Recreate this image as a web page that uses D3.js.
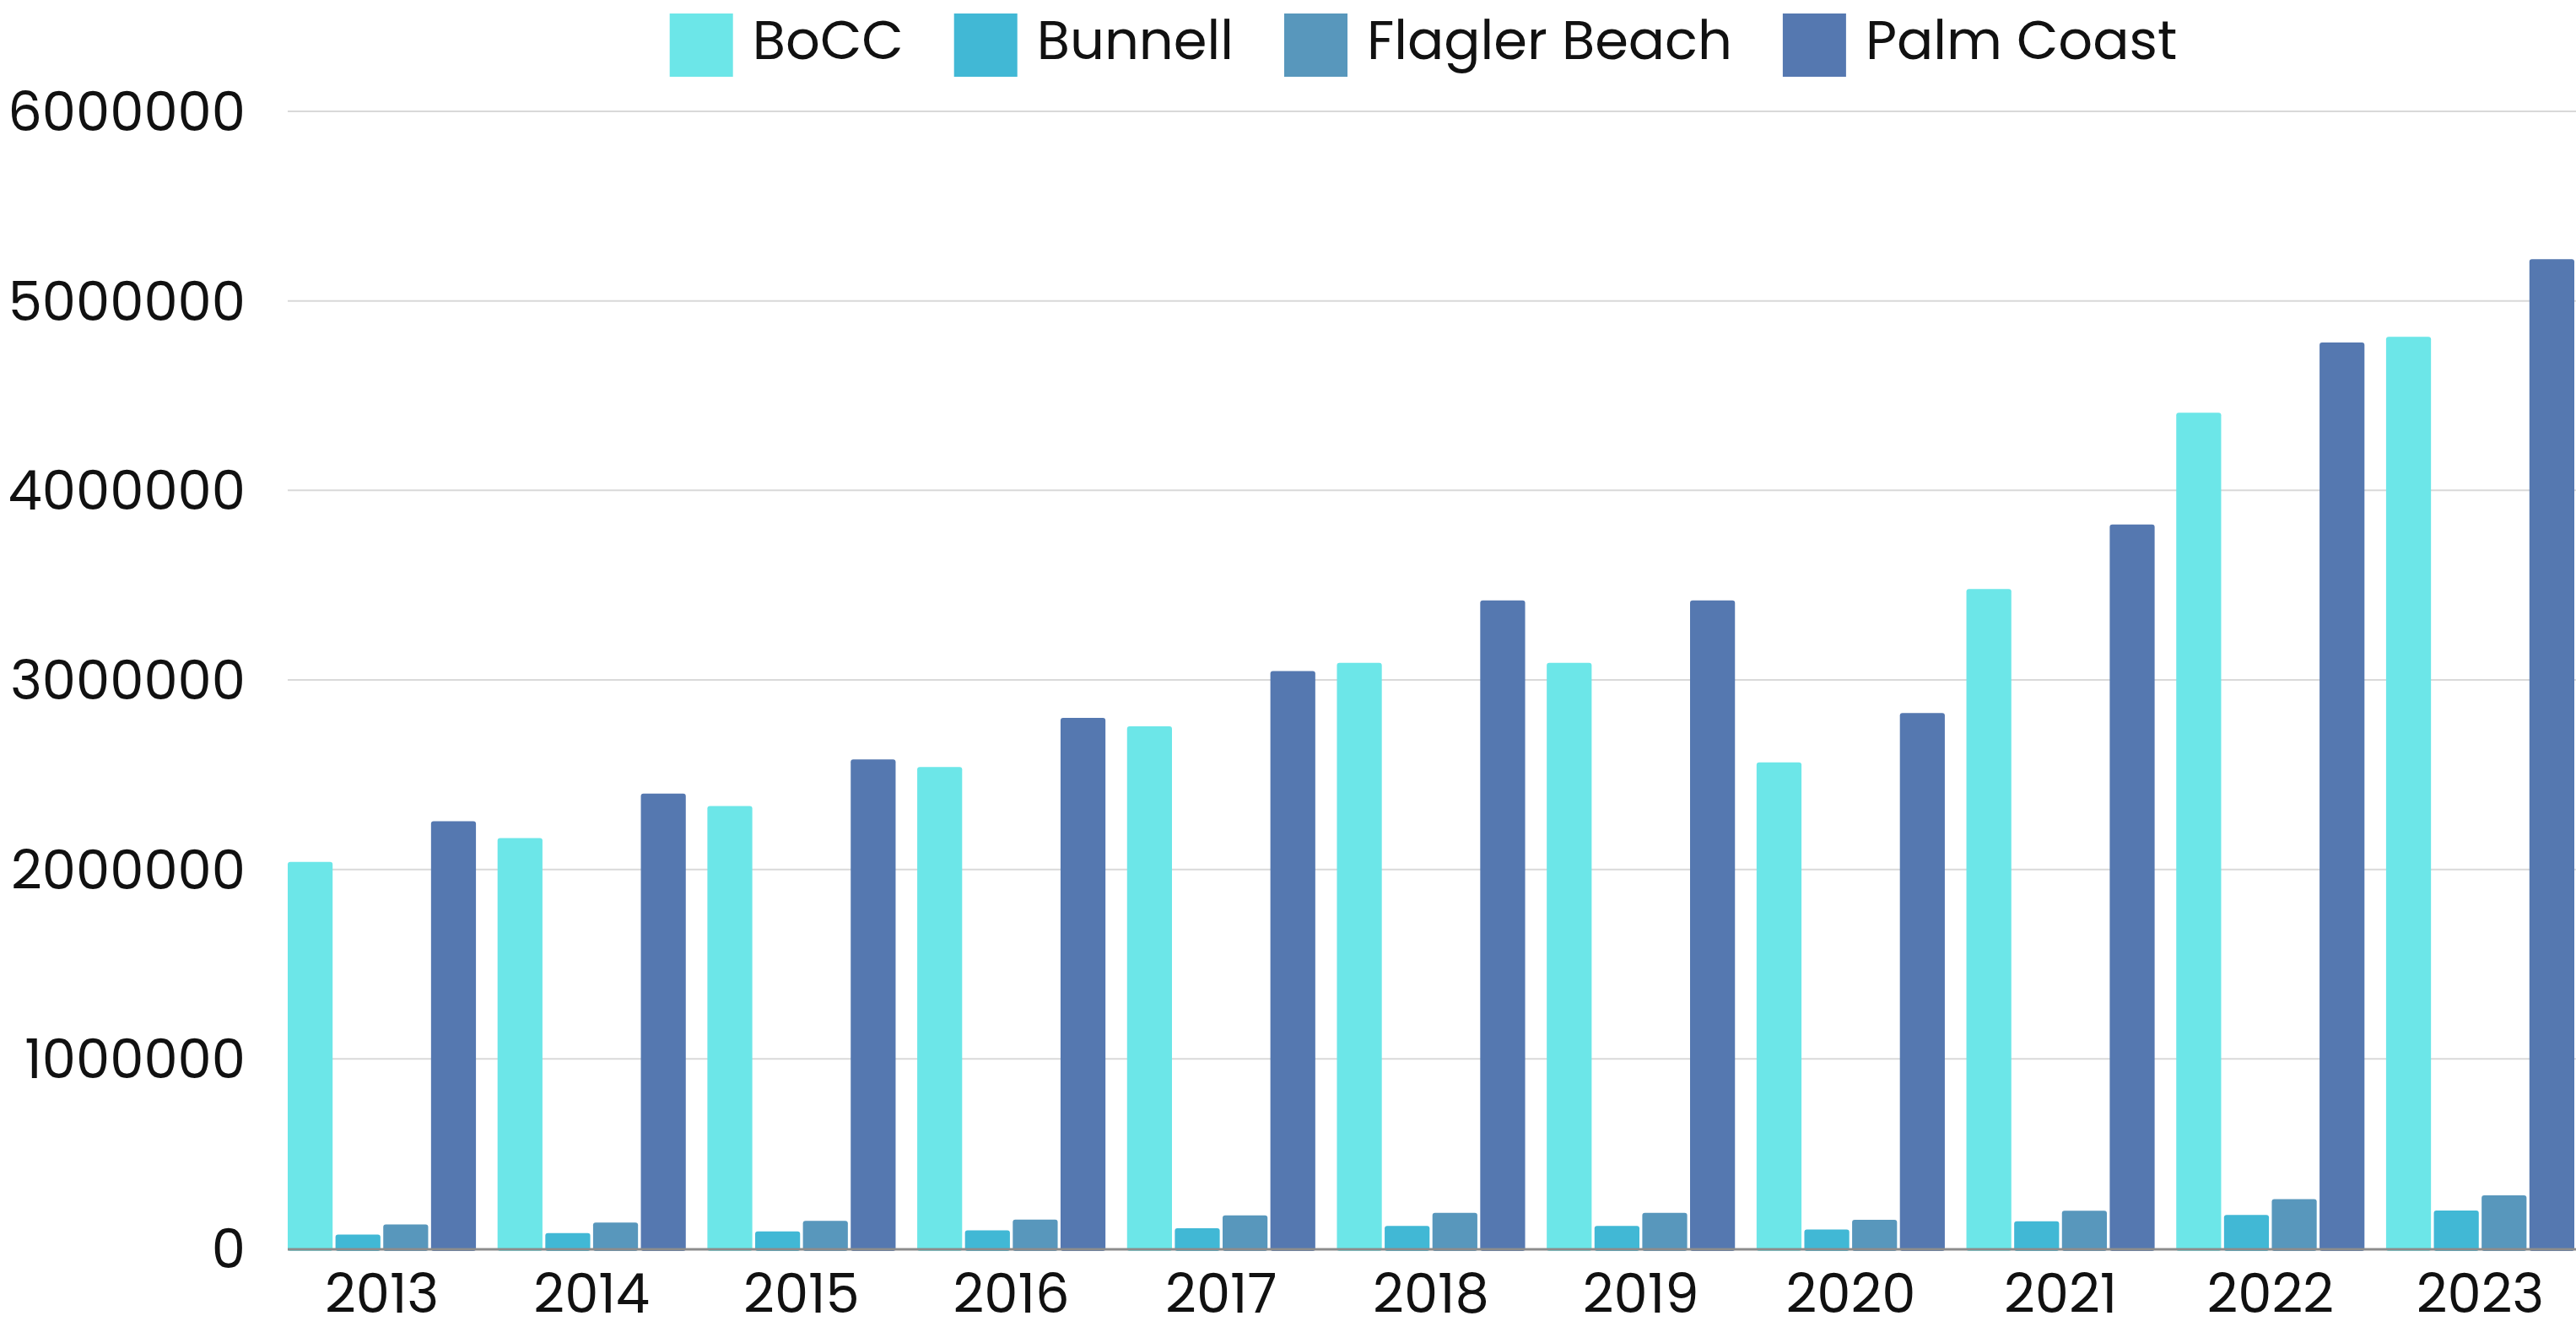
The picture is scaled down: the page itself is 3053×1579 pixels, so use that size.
<!DOCTYPE html>
<html>
<head>
<meta charset="utf-8">
<script src="https://cdn.jsdelivr.net/npm/d3@7"></script>
<style>
  body { margin: 0; background: #fff; }
  svg text { font-family: "Poppins", "Lato", sans-serif; fill: #111; }
</style>
</head>
<body>
<div id="chart"></div>
<script>
// data
const years = ["2013", "2014", "2015", "2016", "2017", "2018", "2019", "2020", "2021", "2022", "2023"];
const seriesNames = ["BoCC", "Bunnell", "Flagler Beach", "Palm Coast"];
const bocc = [2040000, 2165000, 2335000, 2540000, 2755000, 3090000, 3090000, 2565000, 3480000, 4410000, 4810000];
const bunnell = [73000, 81000, 90000, 96000, 107000, 119000, 119000, 100000, 144000, 177000, 200000];
const flaglerBeach = [127000, 137000, 146000, 153000, 175000, 188000, 188000, 151000, 199000, 260000, 280000];
const palmCoast = [2254000, 2400000, 2580000, 2800000, 3047000, 3420000, 3420000, 2825000, 3820000, 4780000, 5220000];
const yTicks = [0, 1000000, 2000000, 3000000, 4000000, 5000000, 6000000];
const colors = ["#6ce6e8", "#41b8d5", "#5897bc", "#5578b0"];

const width = 3053, height = 1579;
const margin = {top: 132, right: 2, bottom: 99, left: 341};

const svg = d3.select("#chart")
  .append("svg")
    .attr("width", width)
    .attr("height", height);

const table = years.map((yr, i) => ({
  year: yr,
  values: [bocc[i], bunnell[i], flaglerBeach[i], palmCoast[i]]
}));

// scales
const x = d3.scaleBand()
  .domain(years)
  .range([margin.left, width - margin.right])
  .paddingInner(0.103)
  .paddingOuter(0);

const xSub = d3.scaleBand()
  .domain(seriesNames)
  .range([0, x.bandwidth()])
  .paddingInner(0.06);

const y = d3.scaleLinear()
  .domain([0, 6000000])
  .range([height - margin.bottom, margin.top]);

const color = d3.scaleOrdinal().domain(seriesNames).range(colors);

// grid lines
svg.append("g")
  .selectAll("line")
  .data(yTicks.slice(1))
  .join("line")
    .attr("x1", margin.left)
    .attr("x2", width)
    .attr("y1", d => y(d))
    .attr("y2", d => y(d))
    .attr("stroke", "#d9d9d9")
    .attr("stroke-width", 2);

// y axis labels
const yAxis = svg.append("g")
  .attr("transform", `translate(${margin.left - 50},0)`)
  .call(d3.axisLeft(y).tickValues(yTicks).tickFormat(d3.format("d")).tickSize(0).tickPadding(0));
yAxis.select(".domain").remove();
yAxis.selectAll("text")
  .style("font-size", "64px")
  .attr("dy", "0.35em");

// bars
svg.append("g")
  .selectAll("g")
  .data(table)
  .join("g")
    .attr("transform", d => `translate(${x(d.year)},0)`)
  .selectAll("rect")
  .data(d => seriesNames.map((key, j) => ({key: key, value: d.values[j]})))
  .join("rect")
    .attr("x", d => xSub(d.key))
    .attr("y", d => y(d.value))
    .attr("width", xSub.bandwidth())
    .attr("height", d => y(0) - y(d.value) + 3)
    .attr("rx", 3)
    .attr("ry", 3)
    .attr("fill", d => color(d.key));

// baseline
svg.append("line")
  .attr("x1", margin.left)
  .attr("x2", width)
  .attr("y1", y(0) + 1)
  .attr("y2", y(0) + 1)
  .attr("stroke", "#8c8c8c")
  .attr("stroke-width", 3);

// x axis labels
const xAxis = svg.append("g")
  .attr("transform", `translate(0,${y(0)})`)
  .call(d3.axisBottom(x).tickSize(0).tickPadding(0));
xAxis.select(".domain").remove();
xAxis.selectAll("text")
  .style("font-size", "64px")
  .attr("dy", null)
  .attr("y", 76);

// legend
const legend = svg.append("g");
const items = legend.selectAll("g")
  .data(seriesNames)
  .join("g");
items.append("rect")
  .attr("width", 75)
  .attr("height", 75)
  .attr("y", 16)
  .attr("fill", d => color(d));
items.append("text")
  .attr("x", 98)
  .attr("y", 70)
  .style("font-size", "64px")
  .text(d => d);

let offset = 0;
const gap = 60;
items.each(function() {
  const g = d3.select(this);
  g.attr("transform", `translate(${offset},0)`);
  offset += 98 + g.select("text").node().getComputedTextLength() + gap;
});
const legendWidth = offset - gap;
legend.attr("transform", `translate(${1687 - legendWidth / 2},0)`);
</script>
</body>
</html>
